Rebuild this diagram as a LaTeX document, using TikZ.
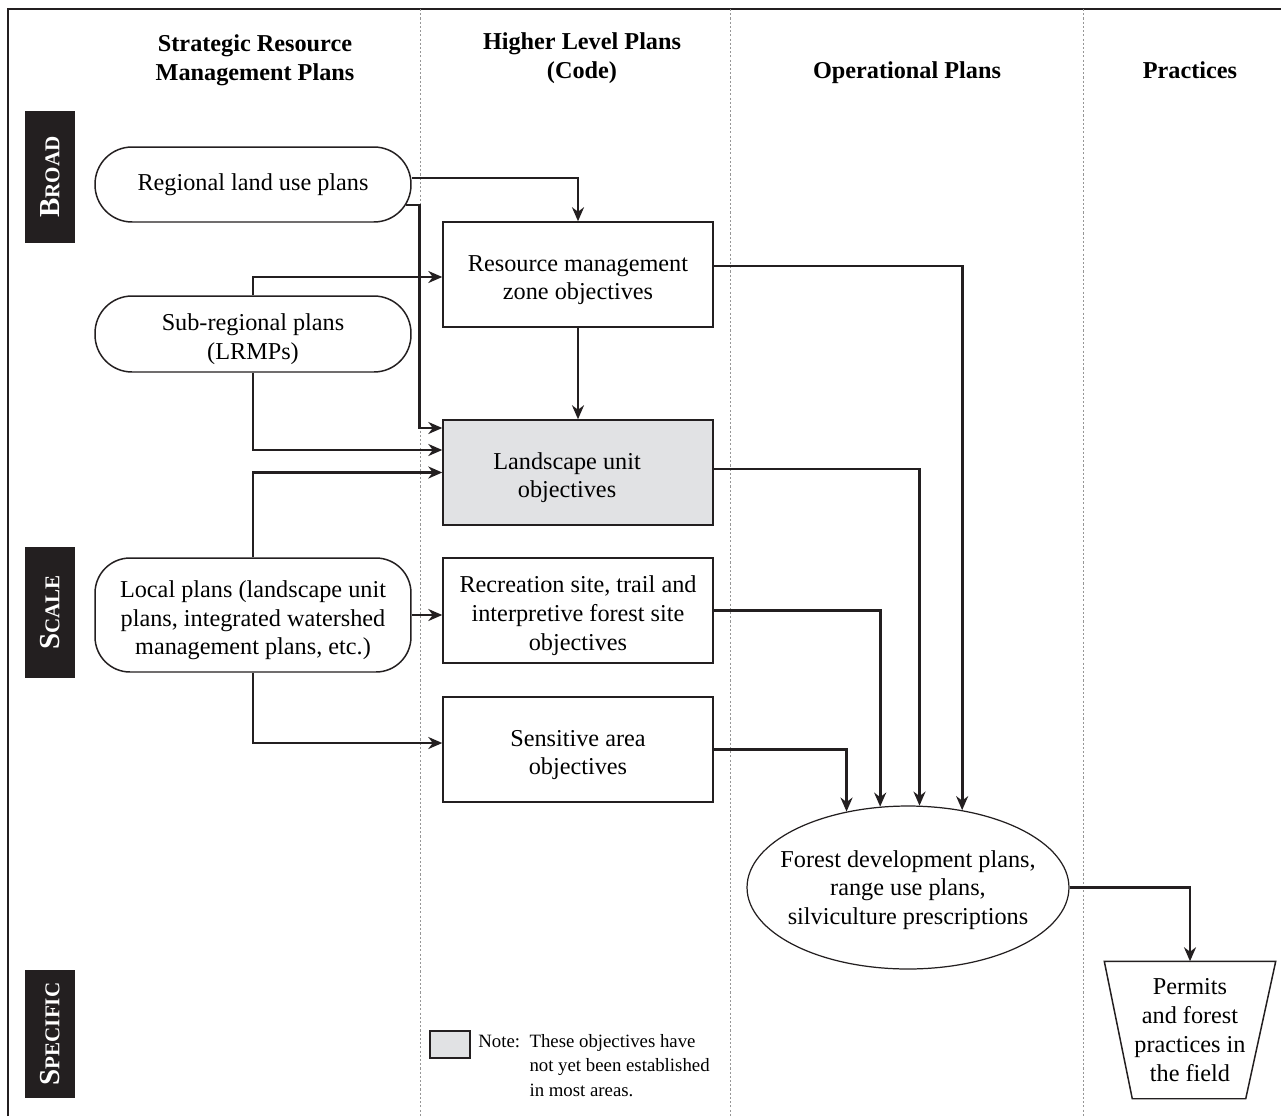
\documentclass[tikz,border=0pt]{standalone}
\usepackage{fontspec}
\setmainfont{Liberation Serif}
\usetikzlibrary{arrows.meta,calc,shapes.geometric}
\definecolor{fpedge}{RGB}{35,31,32}
\definecolor{fpfill}{RGB}{225,226,228}
\definecolor{fpdot}{RGB}{150,150,150}
\newcommand\fpfont{\fontsize{13.8}{16.4}\selectfont}
\newcommand\fpnote{\fontsize{10.7}{13.9}\selectfont}
\newcommand\fpcaps[2]{{\fontsize{16.5}{16.5}\selectfont #1}{\fontsize{12}{12}\selectfont #2}}
\newcommand\fpstrut{\rule{0pt}{15.5pt}}
\tikzset{
  fpbox/.style={
    draw=fpedge, line width=0.85pt, align=center, font=\fpfont, inner sep=2pt
  },
  obj/.style={fpbox, minimum width=5.4cm, minimum height=2.1cm},
  plan/.style={fpbox, minimum width=6.32cm, rounded corners=0.74cm},
  hdr/.style={font=\fpfont\bfseries, align=center},
  side/.style={
    fill=fpedge, text=white, rotate=90, minimum height=1cm,
    inner sep=0pt, font=\bfseries
  },
  outline/.style={draw=fpedge, line width=0.85pt},
  frame/.style={draw=fpedge, line width=0.8pt},
  lane/.style={draw=fpdot, line width=0.4pt, dash pattern=on 1.2pt off 1.2pt},
  arr/.style={
    -{Stealth[length=2.8mm,width=2.4mm,inset=0.9mm]}, draw=fpedge, line width=1.6pt
  }
}
\begin{document}
\begin{tikzpicture}[x=0.02cm, y=-0.02cm]
  \useasboundingbox (0,0) rectangle (1281,1116);
  % frame and column lanes
  \draw[frame] (8,1116) -- (8,9) -- (1281,9);
  \foreach \lx in {420,730,1083}
    \draw[lane] (\lx,9) -- (\lx,1116);

  % column headings
  \node[hdr] (hsrmp) at (255,60.5) {Strategic Resource\\Management Plans};
  \node[hdr] (hhlp) at (582,58.5) {Higher Level Plans\\(Code)};
  \node[hdr] (hop) at (907,73) {Operational Plans};
  \node[hdr] (hprac) at (1190,70) {Practices};

  % scale bars
  \node[side, minimum width=2.64cm] (broad) at (50,177) {\fpcaps{B}{ROAD}};
  \node[side, minimum width=2.62cm] (scale) at (50,612.5) {\fpcaps{S}{CALE}};
  \node[side, minimum width=2.56cm] (specific) at (50,1034) {\fpcaps{S}{PECIFIC}};

  % strategic plans
  \node[plan, minimum height=1.5cm] (regional) at (253,184.5) {Regional land use plans};
  \node[plan, minimum height=1.52cm] (subregional) at (253,334)
    {\fpstrut Sub-regional plans\\(LRMPs)};
  \node[plan, minimum height=2.28cm, rounded corners=0.7cm] (local) at (253,615)
    {\fpstrut Local plans (landscape unit\\plans, integrated watershed\\management plans, etc.)};

  % higher level objectives
  \node[obj] (rmz) at (578,274.5) {\fpstrut Resource management\\zone objectives};
  \node[obj, fill=fpfill] (landscape) at (578,472.5)
    {\fpstrut Landscape unit\hspace*{12.5pt}\\objectives\hspace*{12.5pt}};
  \node[obj] (recreation) at (578,610.5)
    {\fpstrut Recreation site, trail and\\interpretive forest site\\objectives};
  \node[obj] (sensitive) at (578,749.5) {\fpstrut Sensitive area\\objectives};

  % operational plans and practices
  \node[fpbox, line width=0.7pt, ellipse, minimum width=6.44cm, minimum height=3.26cm,
    inner sep=0pt] (forest) at (908,887.5) {};
  \node[font=\fpfont, align=center] (forestlabel) at (908,890)
    {Forest development plans,\\range use plans,\\silviculture prescriptions};
  \node[fpbox, draw=none, minimum width=3.4cm, minimum height=2.72cm] (permits)
    at (1190,1030) {Permits\\and forest\\practices in\\the field};
  \draw[outline] (permits.north west) -- (permits.north east)
    -- ($(permits.south east)+(-30,0)$) -- ($(permits.south west)+(28,0)$) -- cycle;

  % legend
  \node[outline, fill=fpfill, minimum width=0.8cm, minimum height=0.54cm, inner sep=0pt] (key)
    at (450,1044.5) {};
  \node[anchor=north west, font=\fpnote, inner sep=0pt, align=left] (keytext) at (478,1030)
    {\begin{tabular}{@{}l@{\ \ }l@{}}Note: & These objectives have\\
      & not yet been established\\ & in most areas.\end{tabular}};

  % connectors
  \draw[arr] ($(regional.east)+(0,-6.5)$) -| (rmz.north);
  \draw[arr] ($(regional.east)+(-6,20.5)$) -| ($(landscape.west)+(-23,-44.5)$)
    -- ($(landscape.west)+(0,-44.5)$);
  \draw[arr] (subregional.north) |- ($(rmz.west)+(0,2.5)$);
  \draw[arr] (subregional.south) |- ($(landscape.west)+(0,-22.5)$);
  \draw[arr] (local.north) |- (landscape.west);
  \draw[arr] (local.east) -- (local.east -| recreation.west);
  \draw[arr] (local.south) |- ($(sensitive.west)+(0,-6.5)$);
  \draw[arr] (rmz.south) -- (landscape.north);
  \draw[arr] ($(rmz.east)+(0,-8.5)$) -| (forest.55);
  \draw[arr] ($(landscape.east)+(0,-3.5)$) -| (forest.82);
  \draw[arr] (recreation.east) -| (forest.109);
  \draw[arr] (sensitive.east) -| (forest.129);
  \draw[arr] (forest.east) -| (permits.north);
\end{tikzpicture}
\end{document}
